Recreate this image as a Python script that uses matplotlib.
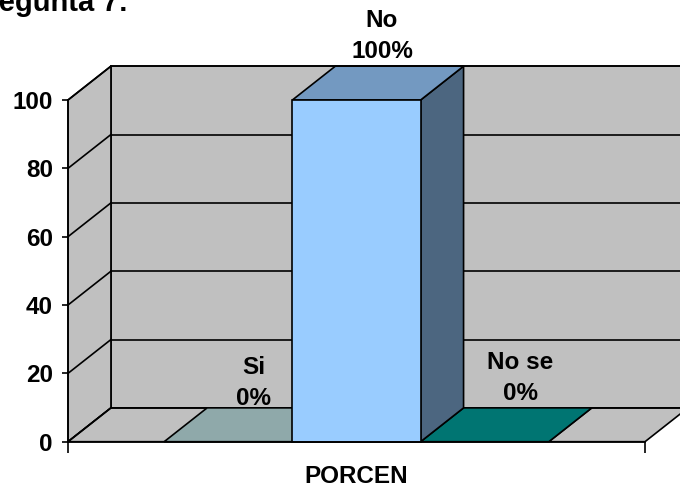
import matplotlib
matplotlib.use("Agg")
import matplotlib.pyplot as plt
from matplotlib.patches import Polygon

plt.rcParams['font.family'] = ['Liberation Sans', 'DejaVu Sans']
plt.rcParams['font.weight'] = 'bold'

# --- data ---------------------------------------------------------------
title = "Pregunta 7:"
category = "PORCEN"
series = ["Si", "No", "No se"]
values = [0, 100, 0]
yticks = [0, 20, 40, 60, 80, 100]

# --- styling ------------------------------------------------------------
face_colors = ["#8FA9AA", "#99CCFF", "#007572"]   # front faces
top_colors = ["#8FA9AA", "#7399C1", "#007572"]
side_colors = ["#6F8586", "#4C6680", "#005552"]
wall_color = "#C0C0C0"
LW = 1.2
DX, DY = 0.335, 9.9          # depth vector in data units
XMIN, XMAX = -1.25, 3.25
label_nudge = [(4, 15), (4, 20), (14, 20)]   # px offsets for value labels

W, H, DPI = 680, 494, 100
fig = plt.figure(figsize=(W / DPI, H / DPI), dpi=DPI)
ax = fig.add_axes([68 / W, (H - 441.7) / H, 577 / W, 341.7 / H])
ax.set_xlim(XMIN, XMAX)
ax.set_ylim(0, 100)
ax.patch.set_visible(False)


def poly(pts, fc, z):
    ax.add_patch(Polygon(pts, closed=True, facecolor=fc, edgecolor="black",
                         lw=LW, joinstyle="miter", clip_on=False, zorder=z))


ytop = yticks[-1]
# back wall, left wall and floor
poly([(XMIN + DX, DY), (XMAX + DX, DY), (XMAX + DX, ytop + DY), (XMIN + DX, ytop + DY)], wall_color, 0.5)
poly([(XMIN, 0), (XMIN + DX, DY), (XMIN + DX, ytop + DY), (XMIN, ytop)], wall_color, 0.6)
poly([(XMIN, 0), (XMAX, 0), (XMAX + DX, DY), (XMIN + DX, DY)], wall_color, 0.6)

# gridlines on back wall and side wall
for v in yticks:
    ax.plot([XMIN + DX, XMAX + DX], [v + DY, v + DY], color="black", lw=LW,
            clip_on=False, zorder=0.7)
    ax.plot([XMIN, XMIN + DX], [v, v + DY], color="black", lw=LW,
            clip_on=False, zorder=0.7)

# bars: zero-height ones first, tall bar on top
order = sorted(range(len(values)), key=lambda i: values[i])
for i in order:
    v = values[i]
    x0, x1 = i - 0.5, i + 0.5
    z = 1 + v / 1000
    poly([(x1, 0), (x1 + DX, DY), (x1 + DX, v + DY), (x1, v)], side_colors[i], z)
    poly([(x0, v), (x1, v), (x1 + DX, v + DY), (x0 + DX, v + DY)], top_colors[i], z)
    if v > 0:
        poly([(x0, 0), (x1, 0), (x1, v), (x0, v)], face_colors[i], z)

# value labels
for i, (name, v) in enumerate(zip(series, values)):
    nx, ny = label_nudge[i]
    ax.annotate(f"{name}\n{v}%", xy=(i + DX / 2, v + DY / 2),
                xytext=(nx * 72 / DPI, ny * 72 / DPI), textcoords="offset points",
                ha="center", va="bottom", fontsize=17.5, fontweight="bold",
                linespacing=1.45, annotation_clip=False, zorder=5)

# axes
for s in ["top", "right"]:
    ax.spines[s].set_visible(False)
for s in ["left", "bottom"]:
    ax.spines[s].set_linewidth(LW)
    ax.spines[s].set_zorder(3)
ax.set_yticks(yticks)
ax.set_yticklabels([str(t) for t in yticks], fontsize=17.5, fontweight="bold")
ax.tick_params(axis="y", direction="out", length=6 * 72 / DPI, width=LW, pad=6.5)
ax.set_xticks([XMIN, XMAX])
ax.set_xticklabels(["", ""])
ax.tick_params(axis="x", direction="out", length=11 * 72 / DPI, width=LW)
ax.set_xlabel(category, fontsize=17.5, fontweight="bold", labelpad=5)

fig.text(128 / W, 1 - 11 / H, title, ha="right", va="baseline",
         fontsize=21, fontweight="bold")

fig.savefig("out.png", dpi=DPI)
